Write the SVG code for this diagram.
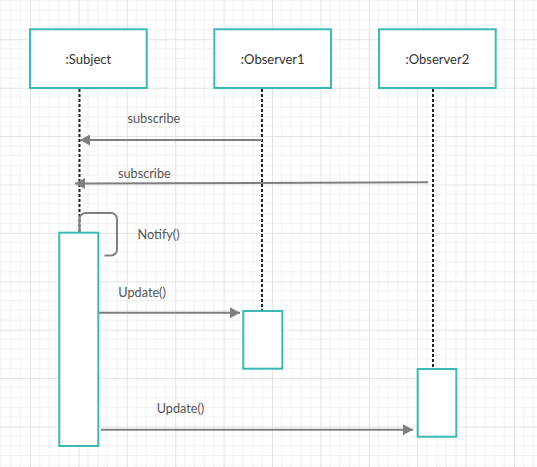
<svg xmlns="http://www.w3.org/2000/svg" width="537" height="467" viewBox="0 0 537 467">
<style>
.box{fill:#fff;stroke:#3bbab5;stroke-width:2}
.title{font-family:Lato,"Open Sans",sans-serif;font-size:13px;fill:#333;text-anchor:middle}
.lbl{font-family:Lato,"Open Sans",sans-serif;font-size:12.7px;fill:#555}
.life{stroke:#222;stroke-width:2;stroke-dasharray:3 2;fill:none}
.msg{stroke:#808080;stroke-width:2;fill:none}
</style>
<defs>
<pattern id="grid" patternUnits="userSpaceOnUse" x="30" y="39.3" width="48.4" height="48.4">
<path d="M9.68 0V48.4M19.36 0V48.4M29.04 0V48.4M38.72 0V48.4M0 9.68H48.4M0 19.36H48.4M0 29.04H48.4M0 38.72H48.4" stroke="#f0f0f0" stroke-width="1" fill="none"/>
<path d="M0.5 0V48.4M0 0.5H48.4" stroke="#e3e3e3" stroke-width="1" fill="none"/>
</pattern>
<marker id="arr" markerWidth="10" markerHeight="11" refX="10" refY="5.5" orient="auto" markerUnits="userSpaceOnUse">
<path d="M0 0L10 5.5L0 11Z" fill="#808080"/>
</marker>
</defs>
<rect width="537" height="467" fill="#fff"/>
<rect width="537" height="467" fill="url(#grid)"/>
<g id="connectors">
<path class="life" d="M79.5 89V232"/>
<path class="life" d="M262 89V310"/>
<path class="life" d="M433 89V368"/>
<path class="msg" d="M262 140H80" marker-end="url(#arr)"/>
<path class="msg" d="M428 182.3L75 183.5" marker-end="url(#arr)"/>
<path class="msg" d="M79.5 232V219a6 6 0 0 1 6-6H111a6 6 0 0 1 6 6V249.5a6 6 0 0 1-6 6H104.5"/>
<path class="msg" d="M99 312.7H240" marker-end="url(#arr)"/>
<path class="msg" d="M101 429.7H413" marker-end="url(#arr)"/>
<text class="lbl" x="127.5" y="122.5">subscribe</text>
<text class="lbl" x="118" y="178">subscribe</text>
<text class="lbl" x="137.5" y="239">Notify()</text>
<text class="lbl" x="118.3" y="296.7">Update()</text>
<text class="lbl" x="156.7" y="413">Update()</text>
</g>
<g id="subject">
<rect class="box" x="30" y="29.3" width="116.7" height="58.7"/>
<text class="title" x="88.4" y="63.5">:Subject</text>
</g>
<g id="observer1">
<rect class="box" x="214.3" y="29.3" width="116.7" height="58.7"/>
<text class="title" x="272.7" y="63.5">:Observer1</text>
</g>
<g id="observer2">
<rect class="box" x="379" y="29.3" width="116.7" height="58.7"/>
<text class="title" x="437.4" y="63.5">:Observer2</text>
</g>
<g id="subject-activation">
<rect class="box" x="59.3" y="232.7" width="39" height="213.3"/>
</g>
<g id="observer1-activation">
<rect class="box" x="243.3" y="311" width="39" height="57.7"/>
</g>
<g id="observer2-activation">
<rect class="box" x="417.7" y="369" width="38.6" height="67.7"/>
</g>
</svg>
